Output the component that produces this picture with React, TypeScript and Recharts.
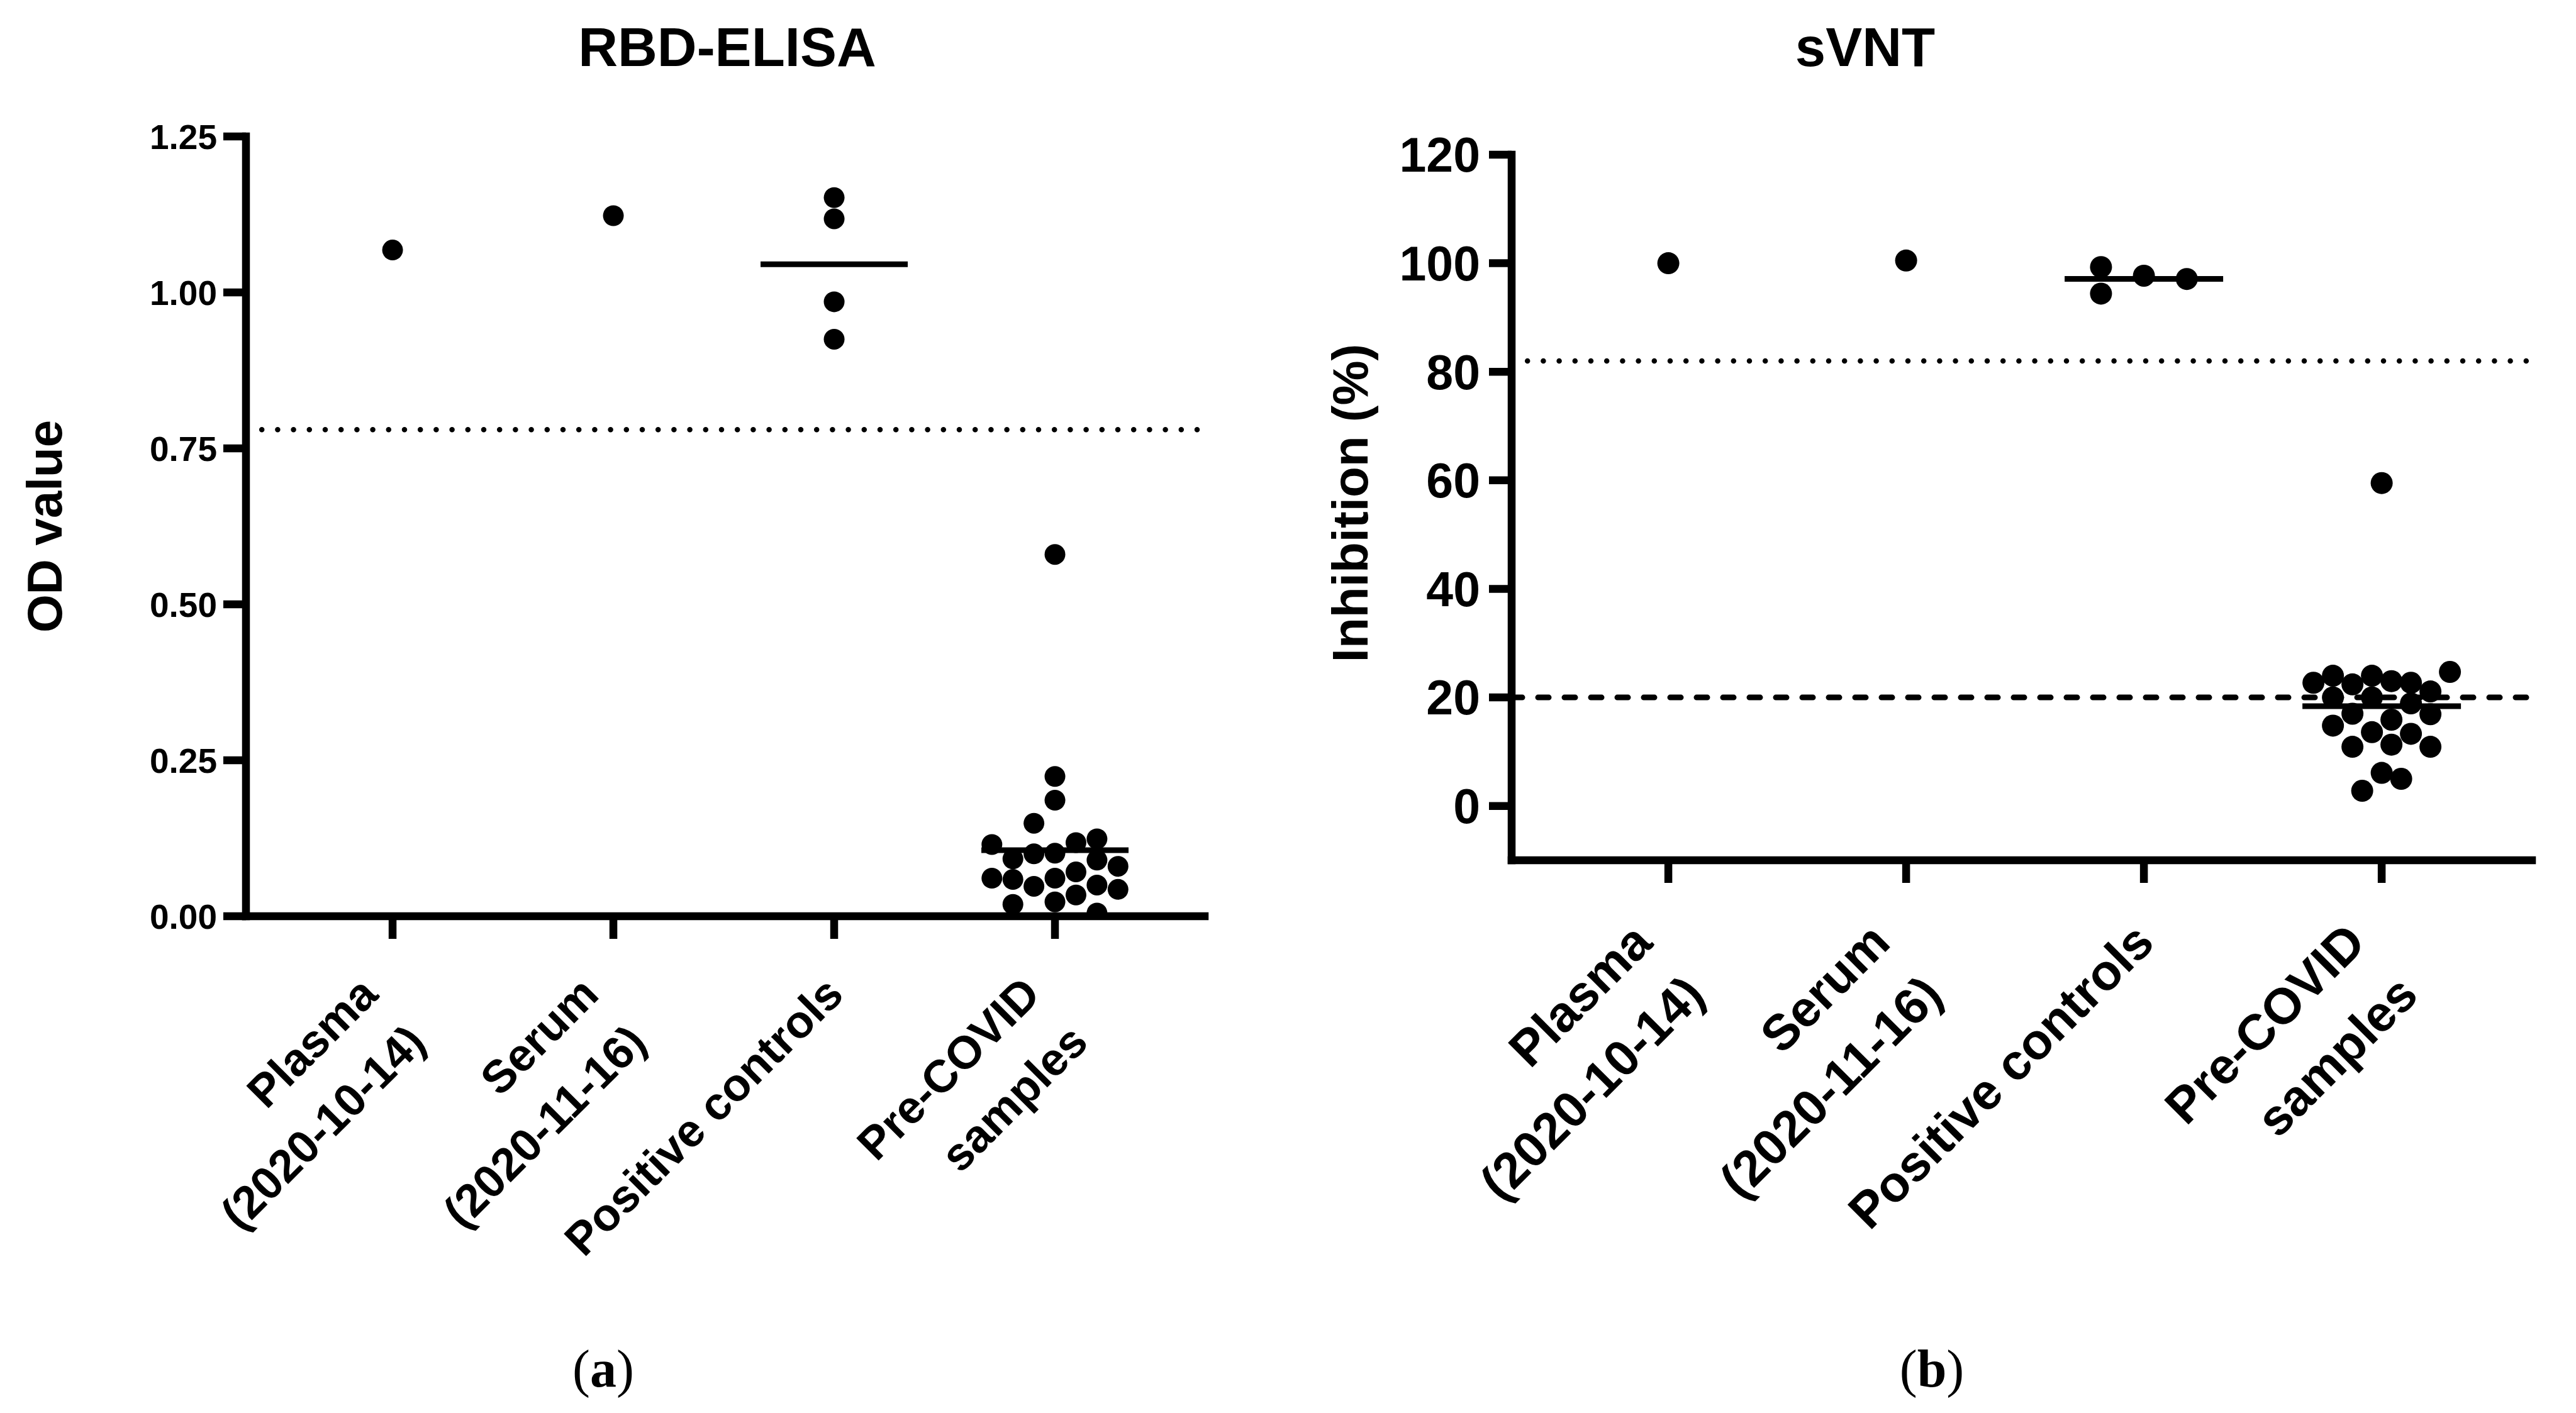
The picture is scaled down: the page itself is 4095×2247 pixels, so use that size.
import { ScatterChart, Scatter, XAxis, YAxis, ReferenceLine } from 'recharts'

const categoryLabels = [['Plasma', '(2020-10-14)'], ['Serum', '(2020-11-16)'], ['Positive controls'], ['Pre-COVID', 'samples']]

// (a) RBD-ELISA, OD value
const elisaPlasma = [1.068]
const elisaSerum = [1.123]
const elisaPositive = [1.152, 1.118, 0.985, 0.925]
const elisaPositiveCols = [0, 0, 0, 0]
const elisaPreCovid = [
  0.58, 0.224, 0.186, 0.149, 0.115, 0.118, 0.124, 0.092, 0.1, 0.101, 0.09, 0.08,
  0.061, 0.059, 0.048, 0.061, 0.071, 0.05, 0.043, 0.019, 0.023, 0.034, 0.005,
]
const elisaPreCovidCols = [0, 0, 0, -1, -3, 1, 2, -2, -1, 0, 2, 3, -3, -2, -1, 0, 1, 2, 3, -2, 0, 1, 2]
const elisaCutoff = 0.78
const elisaTicks = [0, 0.25, 0.5, 0.75, 1, 1.25]

// (b) sVNT, inhibition %
const svntPlasma = [100]
const svntSerum = [100.5]
const svntPositive = [99.3, 94.4, 97.7, 97.1]
const svntPositiveCols = [-2.2, -2.2, 0, 2.2]
const svntPreCovid = [
  59.5, 22.7, 24.0, 22.4, 24.0, 23.0, 22.7, 21.1, 24.7, 20.0, 20.0, 18.9,
  16.9, 17.0, 15.9, 14.8, 13.6, 13.3, 10.9, 11.3, 10.9, 6.1, 5.0, 2.8,
]
const svntPreCovidCols = [0, -3.5, -2.5, -1.5, -0.5, 0.5, 1.5, 2.5, 3.5, -2.5, -0.5, 1.5, 2.5, -1.5, 0.5, -2.5, -0.5, 1.5, -1.5, 0.5, 2.5, 0, 1, -1]
const svntCutoffDotted = 82
const svntCutoffDashed = 20
const svntTicks = [0, 20, 40, 60, 80, 100, 120]

const SANS = "'Liberation Sans', Arial, sans-serif"
const SERIF = "'Liberation Serif', 'Times New Roman', serif"
const AXIS_BOX = 60

type Group = { values: number[]; cols?: number[] }

const mean = (a: number[]) => a.reduce((s, v) => s + v, 0) / a.length

function buildPoints(groups: Group[], step: number) {
  return groups.flatMap((g, gi) =>
    g.values.map((v, i) => ({ x: gi + 1 + (g.cols ? g.cols[i] : 0) * step, y: v })),
  )
}

function CatTick(props: any) {
  const { x, payload, fontSize, lineH, y0 } = props
  const lines: string[] = categoryLabels[payload.value - 1] || []
  const k = 0.7071
  const ox = x - ((lines.length - 1) * lineH * k) / 2
  return (
    <g transform={`translate(${ox},${y0}) rotate(-45)`}>
      {lines.map((t, i) => (
        <text key={i} x={0} y={i * lineH} dy="0.35em" textAnchor="end"
          fontFamily={SANS} fontWeight="bold" fontSize={fontSize} fill="#000">{t}</text>
      ))}
    </g>
  )
}

interface PanelProps {
  left: number
  width: number
  plot: { top: number; right: number; bottom: number; left: number }
  xDomain: [number, number]
  yDomain: [number, number]
  yTicks: number[]
  yFormat: (v: number) => string
  tickFont: number
  tickMargin: number
  labelFont: number
  labelY0: number
  dotR: number
  step: number
  groups: Group[]
  refLines: { y: number; dash: string }[]
}

function Panel(p: PanelProps) {
  const points = buildPoints(p.groups, p.step)
  const means = p.groups
    .map((g, gi) => ({ cat: gi + 1, m: g.values.length > 1 ? mean(g.values) : null }))
    .filter((d) => d.m !== null)
  const axis = { stroke: '#000', strokeWidth: 12.5, strokeLinecap: 'square' as const }
  const margin = {
    top: p.plot.top,
    right: p.width - p.plot.right,
    bottom: 2247 - p.plot.bottom - AXIS_BOX,
    left: p.plot.left - AXIS_BOX,
  }
  return (
    <div style={{ position: 'absolute', left: p.left, top: 0 }}>
      <ScatterChart width={p.width} height={2247} margin={margin}>
        <XAxis type="number" dataKey="x" domain={p.xDomain} allowDataOverflow ticks={[1, 2, 3, 4]}
          height={AXIS_BOX} axisLine={axis} tickLine={{ stroke: '#000', strokeWidth: 12.5 }} tickSize={36}
          interval={0}
          tick={(t: any) => <CatTick {...t} fontSize={p.labelFont} lineH={p.labelFont * 1.47} y0={p.labelY0} />} />
        <YAxis type="number" dataKey="y" domain={p.yDomain} allowDataOverflow ticks={p.yTicks}
          width={AXIS_BOX} axisLine={axis} tickLine={{ stroke: '#000', strokeWidth: 12.5 }} tickSize={36}
          tickMargin={p.tickMargin} interval={0} tickFormatter={p.yFormat}
          tick={{ fill: '#000', fontFamily: SANS, fontWeight: 'bold', fontSize: p.tickFont }} />
        {p.refLines.map((r, i) => (
          <ReferenceLine key={i} y={r.y} stroke="#000" strokeWidth={r.dash.startsWith('0') ? 8.5 : 9}
            strokeDasharray={r.dash} strokeLinecap="round" />
        ))}
        <Scatter data={points} isAnimationActive={false} fill="#000"
          shape={(s: any) => <circle cx={s.cx} cy={s.cy} r={p.dotR} fill="#000" />} />
        {means.map((d) => (
          <ReferenceLine key={d.cat} stroke="#000" strokeWidth={9}
            segment={[{ x: d.cat - 1 / 3, y: d.m as number }, { x: d.cat + 1 / 3, y: d.m as number }]} />
        ))}
      </ScatterChart>
    </div>
  )
}

export default function App() {
  return (
    <div style={{ position: 'absolute', left: 0, top: 0, width: 4095, height: 2247, background: '#fff', overflow: 'hidden' }}>
      <Panel
        left={0} width={2000}
        plot={{ top: 217, right: 1915, bottom: 1457, left: 391 }}
        xDomain={[0.336, 4.678]} yDomain={[0, 1.25]} yTicks={elisaTicks}
        yFormat={(v) => v.toFixed(2)} tickFont={55} tickMargin={10}
        labelFont={73} labelY0={1567} dotR={16.5} step={0.0952}
        groups={[
          { values: elisaPlasma }, { values: elisaSerum },
          { values: elisaPositive, cols: elisaPositiveCols },
          { values: elisaPreCovid, cols: elisaPreCovidCols },
        ]}
        refLines={[{ y: elisaCutoff, dash: '0 25.2' }]}
      />
      <Panel
        left={2050} width={2045}
        plot={{ top: 246, right: 1975, bottom: 1368, left: 353 }}
        xDomain={[0.341, 4.632]} yDomain={[-10, 120]} yTicks={svntTicks}
        yFormat={(v) => String(v)} tickFont={77} tickMargin={14}
        labelFont={80} labelY0={1483} dotR={17.5} step={0.082}
        groups={[
          { values: svntPlasma }, { values: svntSerum },
          { values: svntPositive, cols: svntPositiveCols },
          { values: svntPreCovid, cols: svntPreCovidCols },
        ]}
        refLines={[{ y: svntCutoffDotted, dash: '0 25.2' }, { y: svntCutoffDashed, dash: '17 25' }]}
      />
      <svg width={4095} height={2247} style={{ position: 'absolute', left: 0, top: 0, pointerEvents: 'none' }}>
        <text x={1156} y={105} textAnchor="middle" fontFamily={SANS} fontWeight="bold" fontSize={87}>RBD-ELISA</text>
        <text x={2965} y={105} textAnchor="middle" fontFamily={SANS} fontWeight="bold" fontSize={87}>sVNT</text>
        <text transform="translate(98,837) rotate(-90)" textAnchor="middle" fontFamily={SANS} fontWeight="bold" fontSize={78}>OD value</text>
        <text transform="translate(2174,800) rotate(-90)" textAnchor="middle" fontFamily={SANS} fontWeight="bold" fontSize={80}>Inhibition (%)</text>
        <text x={959} y={2205} textAnchor="middle" fontFamily={SERIF} fontSize={84}>(<tspan fontWeight="bold">a</tspan>)</text>
        <text x={3071} y={2205} textAnchor="middle" fontFamily={SERIF} fontSize={84}>(<tspan fontWeight="bold">b</tspan>)</text>
      </svg>
    </div>
  )
}
